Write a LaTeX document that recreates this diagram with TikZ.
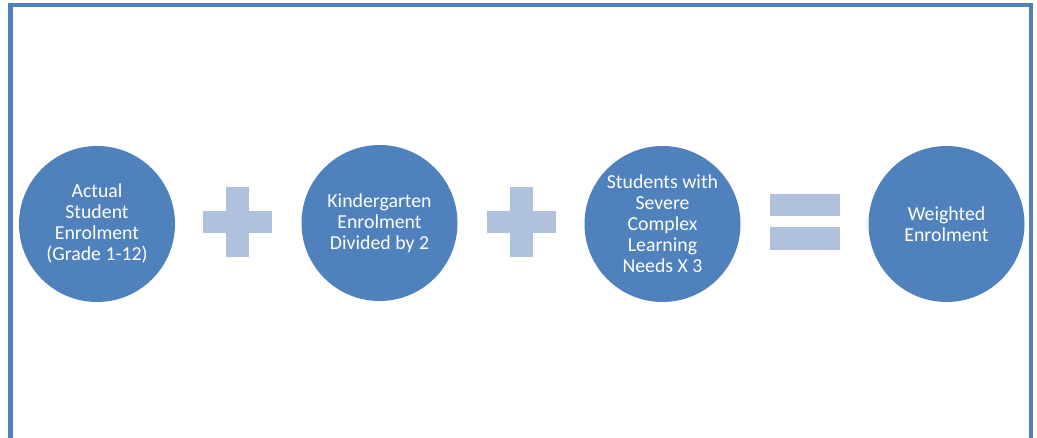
\documentclass[tikz,border=0pt]{standalone}
\usepackage{fontspec}
\setmainfont{Carlito}
\definecolor{circblue}{HTML}{4F81BD}
\definecolor{opblue}{HTML}{B0C1DE}
\definecolor{framecol}{HTML}{4F81BD}
\begin{document}
\begin{tikzpicture}[x=1pt,y=-1pt,
  termcircle/.style={circle, fill=circblue, minimum size=156pt, inner sep=0pt,
    text=white, align=center, font=\fontsize{19.8}{21}\selectfont},
  opshape/.style={fill=opblue}]
\useasboundingbox (0,0) rectangle (1037,438);
\clip (0,0) rectangle (1037,438);
% outer frame
\draw[framecol, line width=4.6pt] (10.5,5) rectangle (1030.8,440);
% operand circles
\node[termcircle] (actual) at (97,224) {Actual\\Student\\Enrolment\\(Grade 1-12)};
\node[termcircle] (kinder) at (379.5,223) {Kindergarten\\Enrolment\\Divided by 2};
\node[termcircle] (severe) at (662.5,224) {Students with\\Severe\\Complex\\Learning\\Needs X 3};
\node[termcircle] (weighted) at (946.5,224) {Weighted\\Enrolment};
% plus signs
\coordinate (plusA) at (237.5,222);
\coordinate (plusB) at (521.5,222);
\foreach \p in {plusA,plusB}{
  \fill[opshape] ([xshift=-34.5pt,yshift=-11pt]\p) rectangle ([xshift=34.5pt,yshift=11pt]\p);
  \fill[opshape] ([xshift=-11.5pt,yshift=-35pt]\p) rectangle ([xshift=11.5pt,yshift=35pt]\p);
}
% equals sign
\coordinate (eq) at (805,222);
\fill[opshape] ([xshift=-35pt,yshift=-28pt]eq) rectangle ([xshift=35pt,yshift=-5.5pt]eq);
\fill[opshape] ([xshift=-35pt,yshift=5.5pt]eq) rectangle ([xshift=35pt,yshift=28pt]eq);
\end{tikzpicture}
\end{document}
